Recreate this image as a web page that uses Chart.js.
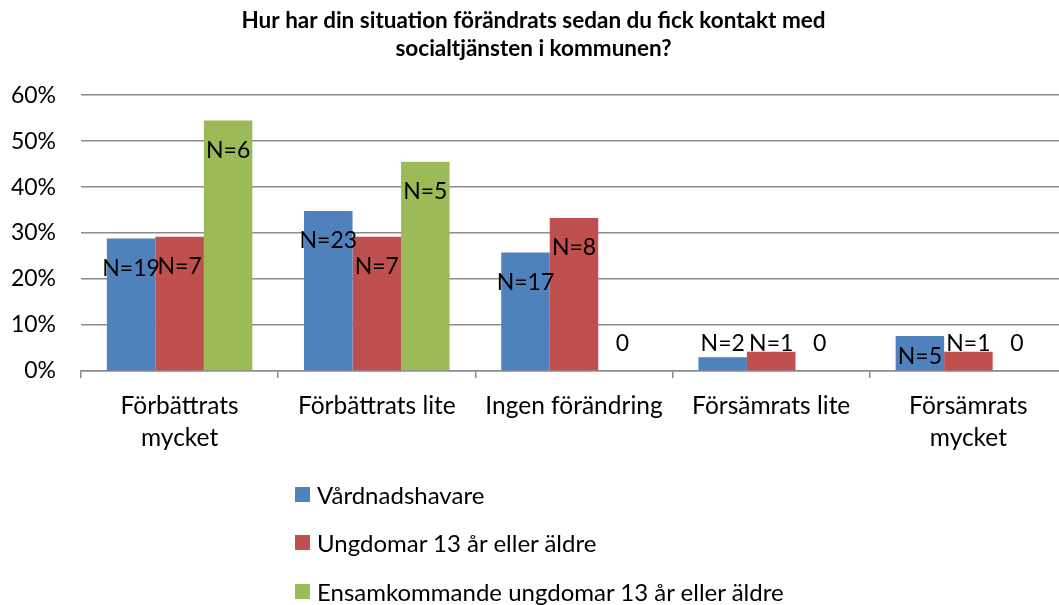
<!DOCTYPE html>
<html>
<head>
<meta charset="utf-8">
<script src="https://cdn.jsdelivr.net/npm/chart.js@4.4.1/dist/chart.umd.min.js"></script>
<style>
  html, body { margin: 0; padding: 0; background: #fff; }
  #wrap { position: relative; width: 1059px; height: 605px; overflow: hidden; }
  #legend { position: absolutely; }
  #legend { position: absolute; left: 295px; top: 470px; font-family: Lato, sans-serif; font-size: 24px; color: #000; }
  .row { display: flex; align-items: center; height: 48.5px; }
  .box { width: 15px; height: 15px; margin-right: 7px; }
</style>
</head>
<body>
<div id="wrap">
  <canvas id="chart" width="1084" height="605"></canvas>
  <div id="legend"></div>
</div>
<script>
// data
const categories = [['Förbättrats', 'mycket'], 'Förbättrats lite', 'Ingen förändring', 'Försämrats lite', ['Försämrats', 'mycket']];
const seriesNames = ['Vårdnadshavare', 'Ungdomar 13 år eller äldre', 'Ensamkommande ungdomar 13 år eller äldre'];
const vardnadshavare = [28.8, 34.8, 25.8, 3.0, 7.6];
const ungdomar = [29.2, 29.2, 33.3, 4.2, 4.2];
const ensamkommande = [54.5, 45.5, 0, 0, 0];
const labelsVardnadshavare = ['N=19', 'N=23', 'N=17', 'N=2', 'N=5'];
const labelsUngdomar = ['N=7', 'N=7', 'N=8', 'N=1', 'N=1'];
const labelsEnsamkommande = ['N=6', 'N=5', '0', '0', '0'];
const yMin = 0, yMax = 60, yStep = 10;

const colors = ['#4F81BD', '#C0504D', '#9BBB59'];
const font = 'Lato, sans-serif';
const pointLabels = [labelsVardnadshavare, labelsUngdomar, labelsEnsamkommande];

// etiketter N=.. på staplarna
const barLabels = {
  id: 'barLabels',
  afterDatasetsDraw(chart) {
    const ctx = chart.ctx;
    ctx.save();
    ctx.font = '23px ' + font;
    ctx.fillStyle = '#000';
    ctx.textAlign = 'center';
    ctx.textBaseline = 'middle';
    chart.data.datasets.forEach((ds, i) => {
      chart.getDatasetMeta(i).data.forEach((bar, j) => {
        let y;
        if (ds.data[j] < 5) y = bar.base - 27;
        else y = Math.min(bar.y + 30, bar.base - 14);
        ctx.fillText(pointLabels[i][j], bar.x, y);
      });
    });
    ctx.restore();
  }
};

new Chart(document.querySelector('#chart'), {
  type: 'bar',
  data: {
    labels: categories,
    datasets: [
      { label: seriesNames[0], data: vardnadshavare, backgroundColor: colors[0] },
      { label: seriesNames[1], data: ungdomar, backgroundColor: colors[1] },
      { label: seriesNames[2], data: ensamkommande, backgroundColor: colors[2] }
    ]
  },
  options: {
    responsive: false,
    animation: false,
    devicePixelRatio: 1,
    categoryPercentage: 0.738,
    barPercentage: 1,
    layout: { padding: { left: 0, right: 17, top: 0, bottom: 144 } },
    plugins: {
      legend: { display: false },
      tooltip: { enabled: false },
      title: {
        display: true,
        text: ['Hur har din situation förändrats sedan du fick kontakt med', 'socialtjänsten i kommunen?'],
        color: '#000',
        font: { family: font, size: 22.5, weight: 'bold', lineHeight: 1.27 },
        padding: { top: 6, bottom: 32 }
      }
    },
    scales: {
      x: {
        grid: { offset: true, drawOnChartArea: false, color: '#8c8c8c', tickLength: 7, lineWidth: 1.5 },
        border: { color: '#8c8c8c', width: 1.5 },
        ticks: { color: '#000', font: { family: font, size: 24.5, lineHeight: 1.3 }, padding: 12, maxRotation: 0, autoSkip: false },
        afterFit(scale) { scale.height = 90; }
      },
      y: {
        min: yMin, max: yMax,
        grid: { color: '#8c8c8c', lineWidth: 1.5, drawTicks: false },
        border: { display: false },
        ticks: { stepSize: yStep, color: '#000', font: { family: font, size: 23 }, padding: 25, callback: (v) => v + '%' },
        afterFit(scale) { scale.width = 81; }
      }
    }
  },
  plugins: [barLabels]
});

// legend som html
const legendDiv = document.querySelector('#legend');
seriesNames.forEach((name, i) => {
  const row = document.createElement('div');
  row.className = 'row';
  row.innerHTML = `<div class="box" style="background:${colors[i]}"></div><span>${name}</span>`;
  legendDiv.appendChild(row);
});
</script>
</body>
</html>
